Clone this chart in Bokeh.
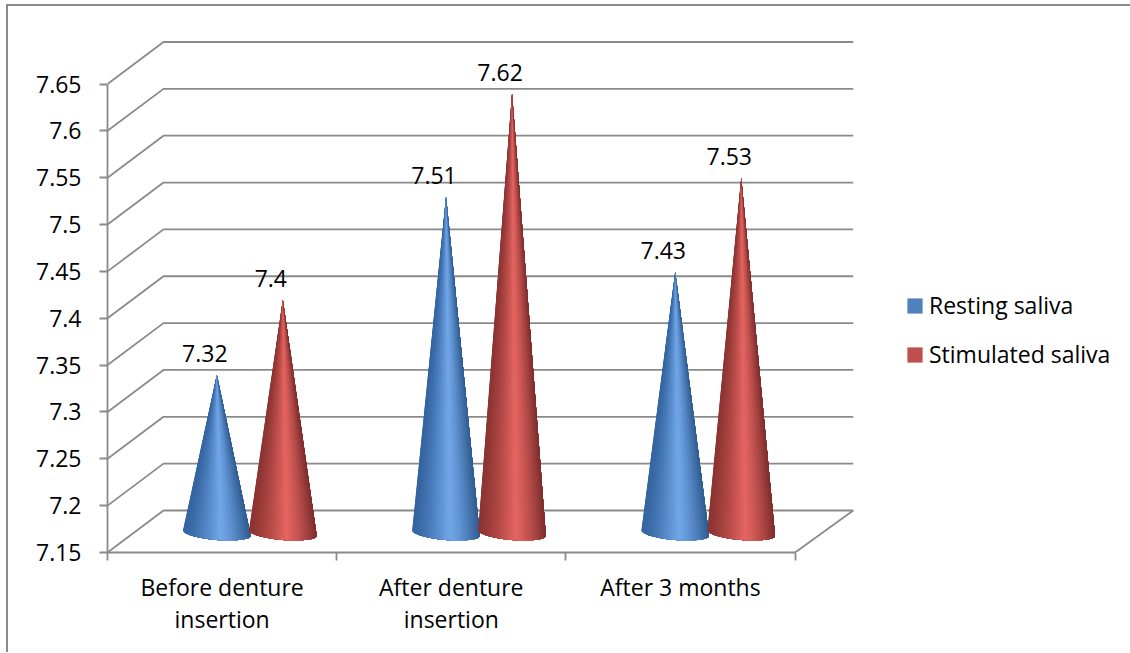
from bokeh.plotting import figure
from bokeh.embed import file_html
from bokeh.resources import INLINE
from bokeh.models import (ColumnDataSource, FixedTicker, Legend,
                          LegendItem, NumeralTickFormatter, Range1d)
from bokeh.core.properties import value
import math

categories = ["Before denture\ninsertion", "After denture\ninsertion", "After 3 months"]
resting = [7.32, 7.51, 7.43]
stimulated = [7.40, 7.62, 7.53]
resting_labels = ["7.32", "7.51", "7.43"]
stimulated_labels = ["7.4", "7.62", "7.53"]
y_ticks = [7.15, 7.2, 7.25, 7.3, 7.35, 7.4, 7.45, 7.5, 7.55, 7.6, 7.65]
series_names = ["Resting saliva", "Stimulated saliva"]

FONT = "Open Sans"
FS = "23px"
GREY = "#8a8a8a"
PX_X = 229.2     # px per category
PX_Y = 937.0     # px per unit of value
AX_L, AX_B = 107, 552  # position of the axis corner
W = 1130
DEPTH_X, DEPTH_Y = 56 / PX_X, 42 / PX_Y
BACK_RIGHT = (852.7 - AX_L) / PX_X

p = figure(frame_width=W - AX_L, frame_height=AX_B, output_backend="svg", toolbar_location=None,
           x_range=Range1d(0, (W - AX_L) / PX_X),
           y_range=Range1d(7.15, 7.15 + AX_B / PX_Y),
           min_border_left=AX_L, min_border_right=0, min_border_top=0,
           min_border_bottom=100)
p.outline_line_color = None
p.grid.visible = False
p.border_fill_color = None
p.background_fill_color = None
# chart-area border: left and top edges of the picture
p.styles = {
    "background": f"linear-gradient({GREY},{GREY}) 6px 5px/2px 100% no-repeat,"
                  f"linear-gradient({GREY},{GREY}) 6px 4px/100% 2px no-repeat",
}

# axes
p.yaxis.ticker = FixedTicker(ticks=y_ticks)
p.yaxis.bounds = (7.15, 7.65)
p.yaxis.formatter = NumeralTickFormatter(format="0.[00]")
p.xaxis.ticker = FixedTicker(ticks=[0.5, 1.5, 2.5], minor_ticks=[0, 1, 2, 3])
p.xaxis.bounds = (0, 3)
p.xaxis.major_label_overrides = {0.5: categories[0], 1.5: categories[1], 2.5: categories[2]}
p.xaxis.major_tick_out = 0
p.xaxis.major_tick_in = 0
p.xaxis.minor_tick_out = 8
p.xaxis.minor_tick_in = 0
p.xaxis.minor_tick_line_color = GREY
p.xaxis.minor_tick_line_width = 1.8
p.xaxis.major_label_standoff = 10
p.xaxis.major_label_text_line_height = 1.0
p.yaxis.minor_tick_line_color = None
p.yaxis.major_tick_out = 8
p.yaxis.major_tick_in = 0
p.yaxis.major_label_standoff = 18
for ax in (p.xaxis, p.yaxis):
    ax.axis_line_color = GREY
    ax.axis_line_width = 1.8
    ax.major_tick_line_color = GREY
    ax.major_tick_line_width = 1.8
    ax.major_label_text_font = FONT
    ax.major_label_text_font_size = FS
    ax.major_label_text_color = "#000000"

# walls and floor
xs = [[0, DEPTH_X, BACK_RIGHT] for _ in y_ticks]
ys = [[v, v + DEPTH_Y, v + DEPTH_Y] for v in y_ticks]
p.multi_line(xs, ys, line_color=GREY, line_width=1.8)
p.line([3, BACK_RIGHT], [7.15, 7.15 + DEPTH_Y], line_color=GREY, line_width=1.8)


def mix(a, b, t):
    return "#%02x%02x%02x" % tuple(round(a[i] + (b[i] - a[i]) * t) for i in range(3))


def shade(dark_l, light, dark_r, u):
    # u runs 0..1 from the left edge to the right edge of the cone
    if u < 0.55:
        return mix(dark_l, light, (u / 0.55) ** 1.3)
    return mix(light, dark_r, ((u - 0.55) / 0.45) ** 1.3)


CONE_A = 33.8 / PX_X
CONE_B = 7.0 / PX_Y
CONE_SKEW = 2.7 / PX_Y
BASE_Y = 7.15 + 19.5 / PX_Y
TIP_UP = 18.5 / PX_Y
STRIPS = 40


def cone(cx, val, dark_l, light, dark_r):
    # painted left to right; each layer covers the rest of the cone, so no seams show
    tx, ty = cx, val + TIP_UP
    arc = [math.pi * i / STRIPS for i in range(STRIPS + 1)]
    ax_ = [cx - CONE_A * math.cos(t) for t in arc]
    ay_ = [BASE_Y - CONE_B * math.sin(t) + CONE_SKEW * math.cos(t) for t in arc]
    px, py, col = [], [], []
    for i in range(STRIPS):
        px.append([tx] + ax_[i:])
        py.append([ty] + ay_[i:])
        u = (0.5 * (ax_[i] + ax_[i + 1]) - cx + CONE_A) / (2 * CONE_A)
        col.append(shade(dark_l, light, dark_r, u))
    p.patches(px, py, fill_color=col, line_color=None)


BLUE = ((52, 100, 160), (112, 166, 232), (48, 92, 145))
RED = ((140, 52, 50), (228, 100, 96), (125, 46, 46))
for k in range(3):
    cone(k + 0.477, resting[k], *BLUE)
    cone(k + 0.765, stimulated[k], *RED)

# value labels
lab = ColumnDataSource(dict(
    x=[k + 0.477 for k in range(3)] + [k + 0.765 for k in range(3)],
    y=[v + TIP_UP for v in resting + stimulated],
    t=resting_labels + stimulated_labels))
p.text("x", "y", text="t", source=lab, x_offset=-12, y_offset=-21,
       text_align="center", text_baseline="middle", text_color="#000000",
       text_font=value(FONT), text_font_size=FS)

# legend: flat-coloured hidden bars of the two series supply the swatches
cat_x = [k + 0.5 for k in range(3)]
r1 = p.vbar(x=cat_x, top=resting, bottom=7.15, width=0.2, fill_color="#4f81bd",
            line_color=None, visible=False)
r2 = p.vbar(x=cat_x, top=stimulated, bottom=7.15, width=0.2, fill_color="#c0504d",
            line_color=None, visible=False)
leg = Legend(items=[LegendItem(label=series_names[0], renderers=[r1]),
                    LegendItem(label=series_names[1], renderers=[r2])],
             location=(905 - AX_L, AX_B - 370), orientation="vertical",
             glyph_width=19, glyph_height=19, label_standoff=5, spacing=17,
             padding=0, margin=0, border_line_color=None, background_fill_color=None,
             label_text_font=FONT, label_text_font_size=FS, label_text_color="#000000")
p.add_layout(leg, "center")

open("out.html", "w").write(file_html(p, INLINE))
